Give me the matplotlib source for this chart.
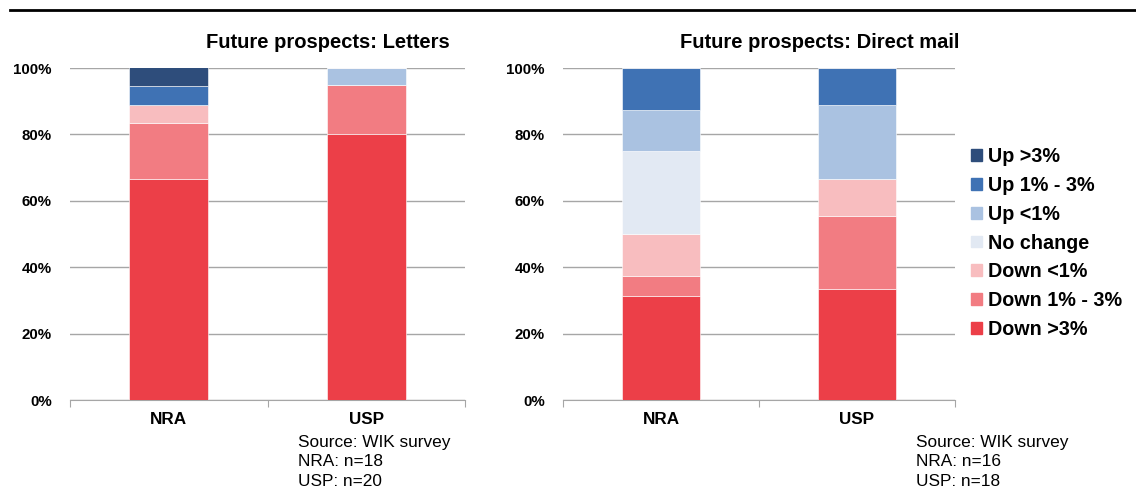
import matplotlib.pyplot as plt
import numpy as np
from matplotlib.lines import Line2D
from matplotlib.patches import Patch

plt.rcParams['font.family'] = ['Liberation Sans', 'DejaVu Sans']

groups = ["NRA", "USP"]
categories = ["Down >3%", "Down 1% - 3%", "Down <1%", "No change", "Up <1%", "Up 1% - 3%", "Up >3%"]
colors = ["#EC3F48", "#F27C82", "#F8BDBF", "#E2E9F3", "#AAC2E1", "#3F72B4", "#2E4D7B"]

# shares per category, NRA / USP (percent)
letters_nra = [66.7, 16.7, 5.6, 0.0, 0.0, 5.6, 5.6]
letters_usp = [80.0, 15.0, 0.0, 0.0, 5.0, 0.0, 0.0]
mail_nra = [31.25, 6.25, 12.5, 25.0, 12.5, 12.5, 0.0]
mail_usp = [33.3, 22.2, 11.1, 0.0, 22.2, 11.1, 0.0]

titles = ["Future prospects: Letters", "Future prospects: Direct mail"]
notes = [["Source: WIK survey", "NRA: n=18", "USP: n=20"],
         ["Source: WIK survey", "NRA: n=16", "USP: n=18"]]


def draw_panel(ax, nra, usp):
    x = np.arange(len(groups))
    bottom = np.zeros(len(groups))
    for i, cat in enumerate(categories):
        vals = np.array([nra[i], usp[i]])
        ax.bar(x, vals, width=0.4, bottom=bottom, color=colors[i],
               edgecolor='white', linewidth=0.4, zorder=3)
        bottom += vals
    ax.set_xlim(-0.5, 1.5)
    ax.set_ylim(0, 100)
    ax.set_yticks(np.arange(0, 101, 20))
    ax.set_yticklabels([f"{v}%" for v in range(0, 101, 20)], fontsize=10.8, fontweight='bold')
    ax.yaxis.grid(True, color='#A6A6A6', linewidth=1, zorder=0)
    ax.tick_params(axis='y', length=0, pad=13)
    ax.set_xticks([-0.5, 0.5, 1.5])
    ax.set_xticklabels([])
    ax.set_xticks(x, minor=True)
    ax.set_xticklabels(groups, minor=True, fontsize=12.3, fontweight='bold')
    ax.tick_params(axis='x', which='major', length=5, color='#A6A6A6', direction='out')
    ax.tick_params(axis='x', which='minor', length=0, pad=9)
    for s in ['top', 'right', 'left']:
        ax.spines[s].set_visible(False)
    ax.spines['bottom'].set_color('#A6A6A6')


fig = plt.figure(figsize=(11.36, 4.95), dpi=100)
ax1 = fig.add_axes([70 / 1136, 95 / 495, 395 / 1136, 332 / 495])
ax2 = fig.add_axes([563 / 1136, 95 / 495, 392 / 1136, 332 / 495])

draw_panel(ax1, letters_nra, letters_usp)
draw_panel(ax2, mail_nra, mail_usp)

fig.text(328 / 1136, 1 - 43 / 495, titles[0], ha='center', va='center', fontsize=14.5, fontweight='bold')
fig.text(820 / 1136, 1 - 43 / 495, titles[1], ha='center', va='center', fontsize=14.5, fontweight='bold')

for x0, lines in zip([298, 916], notes):
    for k, line in enumerate(lines):
        fig.text(x0 / 1136, 1 - (442 + 20 * k) / 495, line, ha='left', va='center', fontsize=12.4)

fig.add_artist(Line2D([10 / 1136, 1], [1 - 10 / 495, 1 - 10 / 495], color='black', linewidth=2))

handles = [Patch(color=colors[i], label=categories[i]) for i in range(len(categories))][::-1]
fig.legend(handles=handles, loc='center left', bbox_to_anchor=(971 / 1136, 1 - 243 / 495),
           frameon=False, prop={'weight': 'bold', 'size': 14.2},
           borderpad=0, borderaxespad=0,
           handlelength=0.55, handleheight=0.55, handletextpad=0.3, labelspacing=0.5)

fig.savefig("out.png", dpi=100)
